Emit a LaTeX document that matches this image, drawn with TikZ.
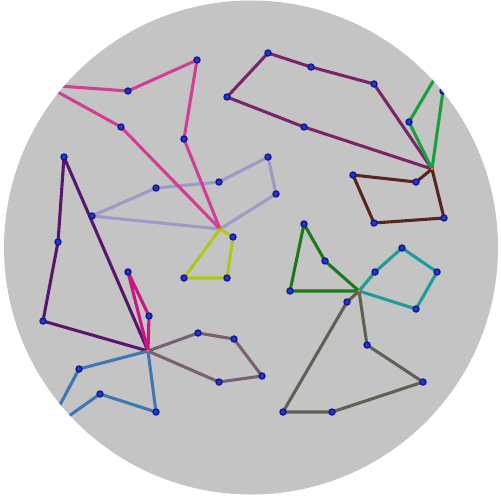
\documentclass[tikz,border=0pt]{standalone}
\definecolor{bgc}{RGB}{196,196,196}
\definecolor{cPink}{RGB}{210,62,150}
\definecolor{cLav}{RGB}{158,154,200}
\definecolor{cYel}{RGB}{178,200,22}
\definecolor{cDpur}{RGB}{88,22,110}
\definecolor{cMag}{RGB}{200,22,130}
\definecolor{cBlue}{RGB}{62,120,180}
\definecolor{cMauve}{RGB}{122,96,116}
\definecolor{cPur}{RGB}{122,36,106}
\definecolor{cGreen}{RGB}{22,160,62}
\definecolor{cBrown}{RGB}{88,36,30}
\definecolor{cDgreen}{RGB}{28,122,28}
\definecolor{cTeal}{RGB}{30,156,156}
\definecolor{cGrey}{RGB}{96,96,86}
\definecolor{dotF}{RGB}{35,55,200}
\definecolor{dotD}{RGB}{15,25,150}
\tikzset{
  edge/.style={line width=1.75pt, line join=round, line cap=round},
  vdot/.style={circle, fill=dotF, draw=dotD, line width=0.8pt, inner sep=0pt, minimum size=3.4pt},
  hubdot/.style={circle, fill=orange, inner sep=0pt, minimum size=1.6pt}
}
\begin{document}
\begin{tikzpicture}[x=0.02cm, y=-0.02cm]
\useasboundingbox (0,0) rectangle (500,500);
\fill[white] (0,0) rectangle (500,500);
\fill[bgc] (251,247.5) circle (247);
\begin{scope}
\clip (251,247.5) circle (247);
% hubs
\coordinate (H1) at (220,229);
\coordinate (H2) at (148,351);
\coordinate (H3) at (432,169);
\coordinate (H4) at (359,291);
% pink
\coordinate (p0) at (45,85);
\coordinate (p1) at (128,91);
\coordinate (p2) at (197,60);
\coordinate (p3) at (184,139);
\coordinate (p4) at (121,127);
% lavender
\coordinate (l1) at (92,216);
\coordinate (l2) at (156,188);
\coordinate (l3) at (219,182);
\coordinate (l4) at (268,157);
\coordinate (l5) at (276,194);
% yellow
\coordinate (y1) at (233,237);
\coordinate (y2) at (227,278);
\coordinate (y3) at (184,278);
% dark purple
\coordinate (d1) at (64,157);
\coordinate (d2) at (58,242);
\coordinate (d3) at (43,321);
% magenta
\coordinate (m1) at (128,272);
\coordinate (m2) at (149,316);
% blue
\coordinate (b1) at (79,369);
\coordinate (b0) at (45,433);
\coordinate (b2) at (100,394);
\coordinate (b3) at (156,412);
% mauve
\coordinate (v1) at (198,333);
\coordinate (v2) at (234,339);
\coordinate (v3) at (262,376);
\coordinate (v4) at (219,382);
% top purple
\coordinate (t1) at (268,53);
\coordinate (t2) at (311,67);
\coordinate (t3) at (374,84);
\coordinate (t4) at (304,127);
\coordinate (t5) at (227,97);
% green
\coordinate (g1) at (409,122);
\coordinate (g0) at (448,56);
\coordinate (g2) at (443,91);
% brown
\coordinate (r1) at (416,182);
\coordinate (r2) at (353,175);
\coordinate (r3) at (374,223);
\coordinate (r4) at (444,218);
% dark green
\coordinate (e1) at (304,224);
\coordinate (e2) at (325,261);
\coordinate (e3) at (290,291);
% teal
\coordinate (c1) at (375,272);
\coordinate (c2) at (402,248);
\coordinate (c3) at (437,272);
\coordinate (c4) at (416,309);
% grey
\coordinate (s1) at (347,302);
\coordinate (s2) at (283,412);
\coordinate (s3) at (332,412);
\coordinate (s4) at (423,382);
\coordinate (s5) at (367,345);

\draw[edge, cPur] (t1) -- (t2) -- (t3) -- (H3) -- (t4) -- (t5) -- cycle;
\draw[edge, cGreen] (H3) -- (g1) -- (g0) -- (g2) -- cycle;
\draw[edge, cBrown] (H3) -- (r1) -- (r2) -- (r3) -- (r4) -- cycle;
\draw[edge, cLav] (H1) -- (l1) -- (l2) -- (l3) -- (l4) -- (l5) -- cycle;
\draw[edge, cPink] (p0) -- (p1) -- (p2) -- (p3) -- (H1) -- (p4) -- cycle;
\draw[edge, cYel] (H1) -- (y1) -- (y2) -- (y3) -- cycle;
\draw[edge, cDpur] (d1) -- (d2) -- (d3) -- (H2) -- cycle;
\draw[edge, cMauve] (H2) -- (v1) -- (v2) -- (v3) -- (v4) -- cycle;
\draw[edge, cBlue] (H2) -- (b1) -- (b0) -- (b2) -- (b3) -- cycle;
\draw[edge, cMag] (H2) -- (m1) -- (m2) -- cycle;
\draw[edge, cDgreen] (e1) -- (e2) -- (H4) -- (e3) -- cycle;
\draw[edge, cTeal] (H4) -- (c1) -- (c2) -- (c3) -- (c4) -- cycle;
\draw[edge, cGrey] (H4) -- (s1) -- (s2) -- (s3) -- (s4) -- (s5) -- cycle;

\foreach \h in {H1,H2,H3,H4} \node[hubdot] at (\h) {};
\foreach \v in {p1,p2,p3,p4,l1,l2,l3,l4,l5,y1,y2,y3,d1,d2,d3,m1,m2,b1,b2,b3,v1,v2,v3,v4,t1,t2,t3,t4,t5,g1,g2,r1,r2,r3,r4,e1,e2,e3,c1,c2,c3,c4,s1,s2,s3,s4,s5}
  \node[vdot] (n\v) at (\v) {};
\end{scope}
\end{tikzpicture}
\end{document}
